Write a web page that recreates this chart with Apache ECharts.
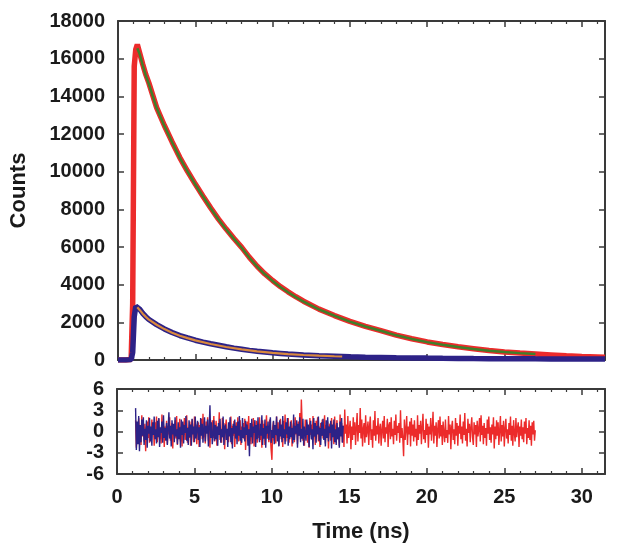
<!DOCTYPE html>
<html>
<head>
<meta charset="utf-8">
<script src="https://cdn.jsdelivr.net/npm/echarts@6/dist/echarts.min.js"></script>
<style>html,body{margin:0;padding:0;background:#fff;}#c{width:621px;height:559px;}</style>
</head>
<body>
<div id="c"></div>
<script>
// ---- Data ----
var decayTime = [0,0.5,0.85,0.95,1.05,1.15,1.25,1.4,1.6,1.8,2.0,2.5,3.0,3.5,4.0,4.5,5.0,5.5,6.0,6.5,7.0,7.5,8.0,8.5,9.0,9.5,10.0,10.5,11.0,11.5,12.0,13,14,15,16,17,18,19,20,21,22,23,24,25,26,27,28,29,30,31,31.5];
var redCounts = [0,0,30,3000,15600,16500,16750,16300,15700,15150,14700,13400,12450,11580,10750,10020,9340,8700,8070,7480,6950,6450,5980,5450,4980,4570,4220,3900,3620,3360,3120,2700,2360,2050,1790,1560,1320,1130,960,820,700,600,500,430,370,320,270,220,185,155,140];
var blueCounts = [0,0,20,400,2300,2850,2920,2700,2480,2300,2150,1880,1650,1460,1300,1170,1050,950,860,780,700,630,570,510,460,420,380,350,320,295,270,230,200,170,150,135,120,110,100,92,85,78,72,68,64,60,58,55,52,50,48];

var greenFitTime = [1.25,1.4,1.6,1.8,2.0,2.5,3.0,3.5,4.0,4.5,5.0,5.5,6.0,6.5,7.0,7.5,8.0,8.5,9.0,9.5,10,10.5,11,11.5,12,13,14,15,16,17,18,19,20,21,22,23,24,25,26,27];
var greenFit = [16550,16250,15650,15100,14650,13380,12430,11560,10730,10000,9320,8680,8050,7460,6930,6430,5960,5430,4960,4550,4200,3880,3600,3340,3100,2690,2350,2040,1780,1550,1310,1120,950,810,690,590,495,425,365,318];

var orangeFitTime = [1.25,1.4,1.6,1.8,2.0,2.5,3.0,3.5,4.0,4.5,5.0,6,7,8,9,10,11,12,13,14,14.5];
var orangeFit = [2800,2660,2460,2290,2140,1870,1640,1450,1290,1160,1040,850,690,560,455,375,315,265,228,198,185];

// weighted residuals, sampled every 0.05 ns
var redResStart = 1.2, blueResStart = 1.2, resStep = 0.05;
var redResidual = [
1.6,-2.3,0.4,-1.1,1.9,-0.6,0.8,-1.9,2.3,-0.7,0.2,-1.4,1.1,-2.8,0.5,1.4,-0.9,2.0,-1.6,0.3,
-1.2,1.7,-0.3,0.9,-2.0,1.3,-0.8,2.1,-1.5,0.6,1.8,-1.1,0.1,-1.7,2.4,-0.5,1.0,-2.2,0.7,-0.2,
1.5,-1.8,0.8,-0.4,2.0,-1.3,0.3,1.2,-2.4,0.9,-0.6,1.6,-1.0,2.2,-1.9,0.4,-0.1,1.8,-1.4,0.7,
-2.1,1.1,-0.5,1.9,-1.2,0.2,2.3,-1.6,0.6,-0.9,1.4,-2.0,0.8,1.7,-0.3,-1.5,2.1,-0.7,1.0,-1.8,
0.5,1.3,-2.2,0.9,-0.4,1.8,-1.1,2.5,-0.8,0.1,-1.7,1.4,-0.2,2.0,-1.3,0.6,-2.3,1.1,-0.6,1.6,
-0.9,2.2,-1.4,0.3,1.5,-2.0,0.7,-0.5,2.7,-1.2,0.4,-1.6,1.9,-0.8,1.2,-2.5,0.6,1.7,-1.0,0.2,
-1.5,1.0,-0.3,2.1,-1.8,0.8,-0.6,1.5,-2.2,0.5,1.3,-0.9,2.0,-1.4,0.1,1.6,-1.9,0.7,-0.4,1.2,
-1.1,1.8,-2.6,0.6,1.4,-0.7,2.2,-1.3,0.3,-1.8,1.1,-0.5,1.9,-2.1,0.9,-0.2,1.5,-1.6,0.4,-0.9,
2.0,-1.2,0.7,-2.3,1.6,-0.4,1.1,-1.9,0.5,2.3,-1.0,0.2,-1.5,1.7,-0.8,-2.6,-4.0,0.6,1.4,-1.3,
0.9,-1.7,2.1,-0.6,1.3,-2.0,0.4,1.8,-1.1,0.2,-2.2,1.5,-0.3,2.4,-1.4,0.8,-0.9,1.9,-1.6,0.5,
-0.7,1.6,-2.1,0.3,1.2,-1.5,2.0,-0.4,0.9,-1.8,1.4,-0.6,2.6,-1.1,4.5,1.1,-1.3,0.6,-2.0,1.7,
-0.2,1.3,-1.6,0.8,-2.3,1.9,-0.5,1.0,-1.2,2.2,-0.8,0.4,-1.9,1.5,-0.1,2.0,-1.4,0.7,-2.2,1.2,
-0.6,1.7,-1.0,0.3,2.3,-1.7,0.9,-0.4,1.4,-2.4,0.6,1.1,-1.3,1.9,-0.7,0.2,-1.8,2.1,-0.9,0.5,
1.6,-1.1,0.4,-2.0,2.4,-0.6,1.2,-1.5,0.8,-2.2,3.1,-0.3,1.0,-1.7,2.2,-0.9,0.3,1.5,-2.5,0.7,
-1.2,2.0,-0.5,1.3,-1.9,0.6,2.6,-1.4,0.9,-0.2,3.3,-1.0,1.7,-2.1,0.4,1.2,-1.6,2.3,-0.8,0.1,
1.4,-1.9,0.7,2.1,-1.2,0.3,-2.3,1.6,-0.6,2.9,-1.3,0.8,-0.4,1.9,-1.7,0.5,1.1,-2.0,0.2,1.5,
-1.0,2.2,-1.5,0.6,-0.3,1.8,-2.2,0.9,1.3,-1.1,2.0,-0.7,0.4,-1.8,1.5,-0.5,2.4,-1.3,0.8,-0.2,
1.2,-1.6,3.0,-0.9,0.5,-1.1,-3.5,1.7,-1.2,0.3,2.2,-1.9,0.7,-0.4,1.4,-2.1,1.9,-0.6,1.0,-1.4,
1.6,-0.8,0.4,-2.0,2.3,-1.2,0.9,-0.3,1.5,-1.8,0.6,2.5,-1.1,0.2,-1.6,1.8,-0.5,1.1,-2.3,0.7,
-0.4,1.9,-1.3,0.5,2.8,-1.7,0.8,-0.6,1.3,-2.2,0.3,1.6,-1.0,2.1,-0.7,0.9,-1.9,1.4,-0.2,-1.5,
1.7,-0.9,0.2,-1.6,2.2,-0.4,1.0,-2.5,0.6,1.5,-1.2,0.3,-1.8,1.9,-0.6,1.2,-2.0,0.8,-0.3,2.4,
-1.1,0.7,-1.7,1.4,-0.5,2.6,-1.3,0.4,-2.1,1.8,-0.2,1.1,-1.5,0.6,2.0,-0.8,-1.9,1.3,-0.4,0.9,
-2.2,1.5,-0.7,0.3,1.9,-1.4,2.3,-0.5,0.8,-1.8,1.2,-0.9,0.5,-2.0,1.7,-0.3,2.1,-1.2,0.6,-1.6,
1.0,-0.4,2.0,-2.4,0.7,-1.1,1.6,-0.6,1.3,-1.9,0.2,2.2,-1.4,0.9,-0.7,1.5,-2.1,0.4,1.8,-1.0,
0.3,-1.7,1.2,-0.5,2.1,-1.3,0.8,-2.0,1.6,-0.2,-1.4,1.9,-0.8,0.5,1.3,-2.2,0.7,-0.6,1.7,-1.1,
0.6,-1.5,1.4,-0.3,1.9,-1.8,0.5,-0.9,1.6,-1.2,0.8,-2.0,1.3,-0.4,1.5,-1.3,0.2];
var blueResidual = [
3.3,-2.6,1.4,-1.8,2.2,-2.8,0.9,-1.5,1.7,-0.6,2.0,-1.9,0.4,-1.2,1.6,-2.3,0.8,-0.3,1.9,-1.4,
0.7,-2.0,1.3,-0.5,2.1,-1.1,0.3,-1.7,1.5,-0.8,1.9,-2.2,0.6,-0.2,1.4,-1.6,2.3,-0.9,0.5,-1.3,
1.2,-1.9,0.4,2.7,-1.0,0.8,-2.1,1.6,-0.4,1.1,-1.5,2.0,-0.7,0.3,-1.8,1.3,-1.1,0.6,-2.3,1.7,
-0.5,1.4,-1.7,0.9,-0.2,2.2,-1.3,0.5,-1.9,1.6,-0.8,1.0,-2.0,1.8,-0.4,0.7,-1.5,2.1,-1.0,0.2,
1.5,-1.2,0.6,-2.2,1.9,-0.6,1.1,-1.6,0.4,2.0,-1.4,0.8,-0.3,1.7,-2.1,0.5,3.7,-0.9,1.3,-1.8,
-0.4,1.6,-1.3,0.9,-1.1,0.7,-2.0,1.2,-0.5,1.8,-1.6,0.3,-0.8,2.1,-1.9,0.6,1.0,-1.2,0.4,-2.2,
1.3,-0.7,2.0,-1.5,0.5,-2.4,1.1,-0.3,1.7,-1.0,0.8,-1.8,1.4,-0.6,2.2,-1.3,0.2,-1.6,1.9,-0.9,
0.6,-1.4,1.5,-0.5,1.0,-2.0,0.3,-3.5,1.2,-0.8,1.8,-1.7,0.7,-0.2,1.6,-2.2,0.9,-1.1,2.0,-0.4,
-1.5,1.1,-0.6,2.3,-1.9,0.5,-1.0,1.7,-2.3,0.8,-0.3,1.4,-1.2,0.6,2.0,-1.6,0.2,-0.9,1.5,-1.8,
0.9,-0.5,2.1,-1.4,0.4,-2.1,1.6,-0.7,1.0,-1.5,2.2,-0.9,0.3,-1.8,1.3,-0.4,1.9,-2.0,0.7,-1.1,
1.4,-0.8,0.5,-1.7,2.4,-1.2,0.8,-0.3,1.6,-2.3,1.1,-0.6,2.0,-1.5,0.4,-1.0,1.8,-2.0,0.7,-0.2,
-1.3,1.7,-0.5,1.0,-2.2,0.6,1.5,-1.1,0.3,-2.5,1.9,-0.7,1.2,-1.6,0.8,-0.4,2.1,-1.3,0.5,-1.9,
1.3,-0.6,1.8,-1.2,0.4,-2.1,1.6,-0.9,2.0,-1.4,0.7,-0.2,1.5,-2.4,1.0,-0.8,1.7,-1.5,0.3,-1.9,
1.2,-1.1,0.6,-2.3,1.4,-0.7,1.9,-1.6,0.8];

var xTicks = [0,5,10,15,20,25,30];
var countTicks = [0,2000,4000,6000,8000,10000,12000,14000,16000,18000];
var resTicks = [-6,-3,0,3,6];

// ---- build ----
function pairs(xs, ys){ return ys.map(function(v,i){ return [xs[i], v]; }); }
function resPairs(start, ys){ return ys.map(function(v,i){ return [+(start + i*resStep).toFixed(3), v]; }); }

var FONT = '"Liberation Sans", Arial, sans-serif';
var axisCol = '#3a3a3a';
var lab = {fontFamily: FONT, fontWeight: 'bold', fontSize: 20, color: '#1a1a1a'};

function xAx(grid, pos, showLabels, name){
  return {
    type: 'value', gridIndex: grid, position: pos,
    min: 0, max: 31.5, interval: 5,
    axisLine: {show: true, onZero: false, lineStyle: {color: axisCol, width: 2}},
    axisTick: {show: true, inside: true, length: 6, lineStyle: {color: axisCol, width: 1.5}},
    minorTick: {show: true, splitNumber: 5, length: 3, lineStyle: {color: axisCol, width: 1.2}},
    splitLine: {show: false}, minorSplitLine: {show: false},
    axisLabel: showLabels ? Object.assign({margin: 13, showMaxLabel: false,
        formatter: function(v){ return xTicks.indexOf(v) >= 0 ? String(v) : ''; }}, lab) : {show: false},
    name: name || '', nameLocation: 'middle', nameGap: 47,
    nameTextStyle: {fontFamily: FONT, fontWeight: 'bold', fontSize: 22, color: '#1a1a1a'}
  };
}
function yAx(grid, pos, min, max, interval, showLabels, name, ticks){
  return {
    type: 'value', gridIndex: grid, position: pos,
    min: min, max: max, interval: interval,
    axisLine: {show: true, onZero: false, lineStyle: {color: axisCol, width: 2}},
    axisTick: {show: true, inside: true, length: 6, lineStyle: {color: axisCol, width: 1.5}},
    splitLine: {show: false},
    axisLabel: showLabels ? Object.assign({margin: 13,
        formatter: function(v){ return ticks.indexOf(v) >= 0 ? String(v) : ''; }}, lab) : {show: false},
    name: name || '', nameLocation: 'middle', nameGap: 88,
    nameTextStyle: {fontFamily: FONT, fontWeight: 'bold', fontSize: 22, color: '#1a1a1a'}
  };
}

var option = {
  animation: false,
  backgroundColor: '#ffffff',
  grid: [
    {left: 117, top: 21, width: 488, height: 339},
    {left: 117, top: 389, width: 488, height: 85}
  ],
  xAxis: [
    xAx(0, 'bottom', false),
    xAx(0, 'top', false),
    xAx(1, 'bottom', true, 'Time (ns)'),
    xAx(1, 'top', false)
  ],
  yAxis: [
    yAx(0, 'left', 0, 18000, 2000, true, 'Counts', countTicks),
    yAx(0, 'right', 0, 18000, 2000, false),
    yAx(1, 'left', -6, 6, 3, true, '', resTicks),
    yAx(1, 'right', -6, 6, 3, false)
  ],
  series: [
    {type: 'line', xAxisIndex: 0, yAxisIndex: 0, data: pairs(decayTime, redCounts), showSymbol: false,
     lineStyle: {color: '#ec2b2b', width: 5.5}, z: 3},
    {type: 'line', xAxisIndex: 0, yAxisIndex: 0, data: pairs(greenFitTime, greenFit), showSymbol: false,
     lineStyle: {color: '#3f7f2a', width: 2.5}, z: 4},
    {type: 'line', xAxisIndex: 0, yAxisIndex: 0, data: pairs(decayTime, blueCounts), showSymbol: false,
     lineStyle: {color: '#2d2287', width: 5.5}, z: 5},
    {type: 'line', xAxisIndex: 0, yAxisIndex: 0, data: pairs(orangeFitTime, orangeFit), showSymbol: false,
     lineStyle: {color: '#d9893e', width: 2.2}, z: 6},
    {type: 'line', xAxisIndex: 2, yAxisIndex: 2, data: resPairs(redResStart, redResidual), showSymbol: false,
     lineStyle: {color: '#ec2b2b', width: 1.4}, z: 3},
    {type: 'line', xAxisIndex: 2, yAxisIndex: 2, data: resPairs(blueResStart, blueResidual), showSymbol: false,
     lineStyle: {color: '#2d2287', width: 1.4}, z: 4}
  ]
};
var chart = echarts.init(document.getElementById('c'), null, {renderer: 'canvas'});
chart.setOption(option);
</script>
</body>
</html>
